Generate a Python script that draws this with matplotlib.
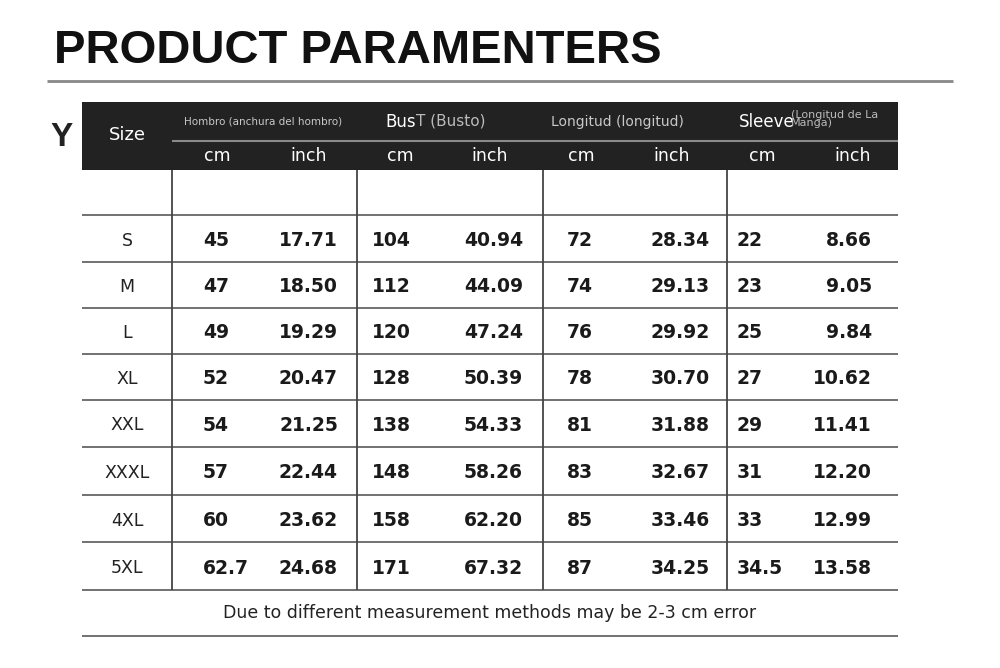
import matplotlib
matplotlib.use('Agg')
import matplotlib.pyplot as plt
from matplotlib.patches import Rectangle

# ---- table data ----
sizes = ['S', 'M', 'L', 'XL', 'XXL', 'XXXL', '4XL', '5XL']
shoulder_cm = ['45', '47', '49', '52', '54', '57', '60', '62.7']
shoulder_in = ['17.71', '18.50', '19.29', '20.47', '21.25', '22.44', '23.62', '24.68']
bust_cm = ['104', '112', '120', '128', '138', '148', '158', '171']
bust_in = ['40.94', '44.09', '47.24', '50.39', '54.33', '58.26', '62.20', '67.32']
length_cm = ['72', '74', '76', '78', '81', '83', '85', '87']
length_in = ['28.34', '29.13', '29.92', '30.70', '31.88', '32.67', '33.46', '34.25']
sleeve_cm = ['22', '23', '25', '27', '29', '31', '33', '34.5']
sleeve_in = ['8.66', '9.05', '9.84', '10.62', '11.41', '12.20', '12.99', '13.58']

title = 'PRODUCT PARAMENTERS'
note = 'Due to different measurement methods may be 2-3 cm error'

# ---- layout (pixel coords) ----
W, H = 1000, 668
left, right = 82, 898
col_x = [172, 357, 543, 727]           # vertical dividers between groups
hdr_top, hdr_mid, hdr_bot = 102, 141, 170
row_lines = [215, 262, 308, 354, 400, 447, 495, 542, 590, 636]
cm_x = [203, 372, 567, 737]            # left aligned cm values
in_x = [338, 523, 710, 872]            # right aligned inch values
sub_cm = [217, 400, 581, 762]
sub_in = [309, 490, 672, 853]

fig = plt.figure(figsize=(10, 6.68), dpi=100)
ax = fig.add_axes([0, 0, 1, 1])
ax.set_xlim(0, W)
ax.set_ylim(H, 0)
ax.axis('off')

# title + underline
ax.text(54, 51, title, fontsize=34, fontweight='bold', family='Liberation Sans',
        ha='left', va='center', color='#111111')
ax.hlines(81, 47, 953, color='#888888', lw=2)
ax.text(62, 137, 'Y', fontsize=24, fontweight='bold', family='Liberation Sans',
        ha='center', va='center', color='#222222')

# dark header
ax.add_patch(Rectangle((left, hdr_top), right - left, hdr_bot - hdr_top,
                       facecolor='#222222', edgecolor='none'))
ax.hlines(hdr_mid, col_x[0], right, color='#8a8a8a', lw=1.5)
ax.text(127, 135, 'Size', fontsize=13, color='white', ha='center', va='center')

ax.text(263, 122, 'Hombro (anchura del hombro)', fontsize=7.5, color='#c8c8c8',
        ha='center', va='center')
ax.text(385, 122, 'Bus', fontsize=12, color='white', ha='left', va='center')
ax.text(416, 121, 'T (Busto)', fontsize=11, color='#bbbbbb', ha='left', va='center')
ax.text(617, 122, 'Longitud (longitud)', fontsize=10, color='#c8c8c8',
        ha='center', va='center')
ax.text(739, 122, 'Sleeve', fontsize=12, color='white', ha='left', va='center')
ax.text(791, 119, '(Longitud de La\nManga)', fontsize=8, color='#bbbbbb',
        ha='left', va='center', linespacing=0.85)

for xc, xi in zip(sub_cm, sub_in):
    ax.text(xc, 156, 'cm', fontsize=12.5, color='white', ha='center', va='center')
    ax.text(xi, 156, 'inch', fontsize=12.5, color='white', ha='center', va='center')

# grid
ax.hlines(row_lines, left, right, color='#666666', lw=1.3)
ax.vlines(col_x, hdr_bot, row_lines[-2], color='#444444', lw=1.3)

cm_cols = [shoulder_cm, bust_cm, length_cm, sleeve_cm]
in_cols = [shoulder_in, bust_in, length_in, sleeve_in]
for i, s in enumerate(sizes):
    yc = (row_lines[i] + row_lines[i + 1]) / 2 + 2
    ax.text(127, yc, s, fontsize=12.5, color='#222222', ha='center', va='center')
    for k in range(4):
        ax.text(cm_x[k], yc, cm_cols[k][i], fontsize=13.5, fontweight='bold',
                color='#1a1a1a', ha='left', va='center')
        ax.text(in_x[k], yc, in_cols[k][i], fontsize=13.5, fontweight='bold',
                color='#1a1a1a', ha='right', va='center')

ax.text(490, 613, note, fontsize=12.5, color='#222222', ha='center', va='center')

fig.savefig('out.png', dpi=100, facecolor='white')
